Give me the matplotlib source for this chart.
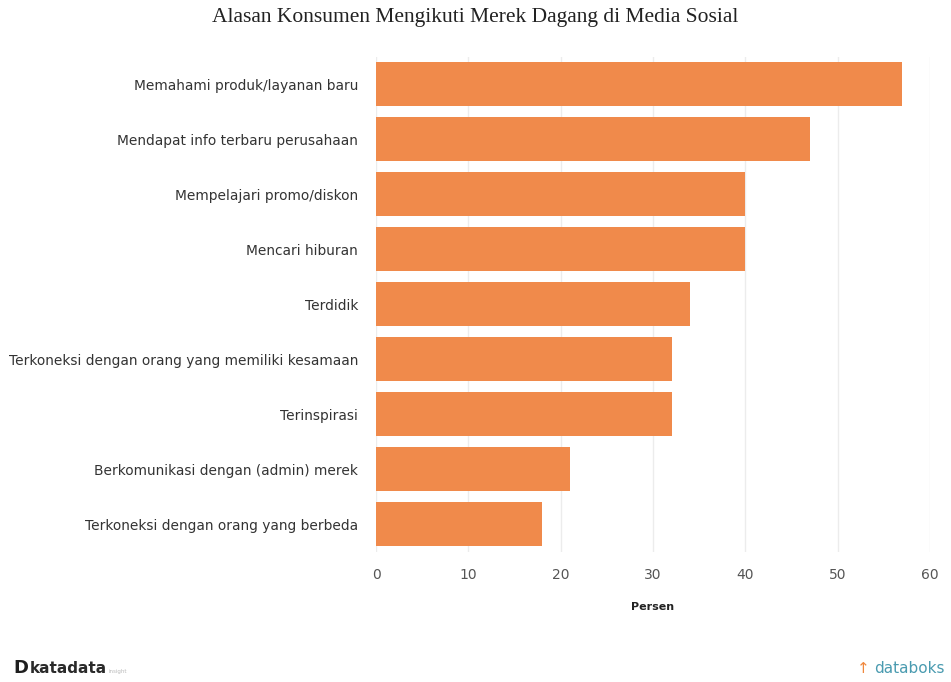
import numpy as np
import matplotlib.pyplot as plt

alasan = [
    "Memahami produk/layanan baru",
    "Mendapat info terbaru perusahaan",
    "Mempelajari promo/diskon",
    "Mencari hiburan",
    "Terdidik",
    "Terkoneksi dengan orang yang memiliki kesamaan",
    "Terinspirasi",
    "Berkomunikasi dengan (admin) merek",
    "Terkoneksi dengan orang yang berbeda",
]
persen = [57, 47, 40, 40, 34, 32, 32, 21, 18]
xticks = [0, 10, 20, 30, 40, 50, 60]

fig = plt.figure(figsize=(9.51, 6.82), dpi=100)
ax = fig.add_axes([0.3954, 0.191, 0.5826, 0.726])

y = np.arange(len(alasan))
ax.barh(y, persen, height=0.8, color="#F08A4B", zorder=3)
ax.set_yticks(y)
ax.set_yticklabels(alasan, fontsize=9.9, color="#333333", family="DejaVu Sans")
ax.set_ylim(len(alasan) - 0.5, -0.5)
ax.set_xlim(0, 60)
ax.set_xticks(xticks)
ax.set_xticklabels([str(t) for t in xticks], fontsize=10, color="#555555")
ax.tick_params(axis="both", length=0, pad=12)
ax.tick_params(axis="y", pad=13)
ax.grid(axis="x", color="#ececec", linewidth=1, zorder=0)
for s in ax.spines.values():
    s.set_visible(False)
ax.set_xlabel("Persen", fontsize=8, fontweight="bold", color="#222222", labelpad=14)

fig.text(0.5, 0.974, "Alasan Konsumen Mengikuti Merek Dagang di Media Sosial",
         ha="center", va="center", fontsize=15.5, family="Liberation Serif", color="#222222")

# footer logos
fig.text(0.014, 0.02, "D", ha="left", va="center", fontsize=13, fontweight="bold", color="#1e1e1e")
fig.text(0.031, 0.02, "katadata", ha="left", va="center", fontsize=11, fontweight="semibold", color="#2a2a2a")
fig.text(0.114, 0.016, "insight", ha="left", va="center", fontsize=4, color="#bbbbbb")
fig.text(0.993, 0.02, "databoks", ha="right", va="center", fontsize=11, color="#4a9bb0")
fig.text(0.914, 0.02, "\u2191", ha="right", va="center", fontsize=11, color="#f0883e")

fig.savefig("out.png", dpi=100)
